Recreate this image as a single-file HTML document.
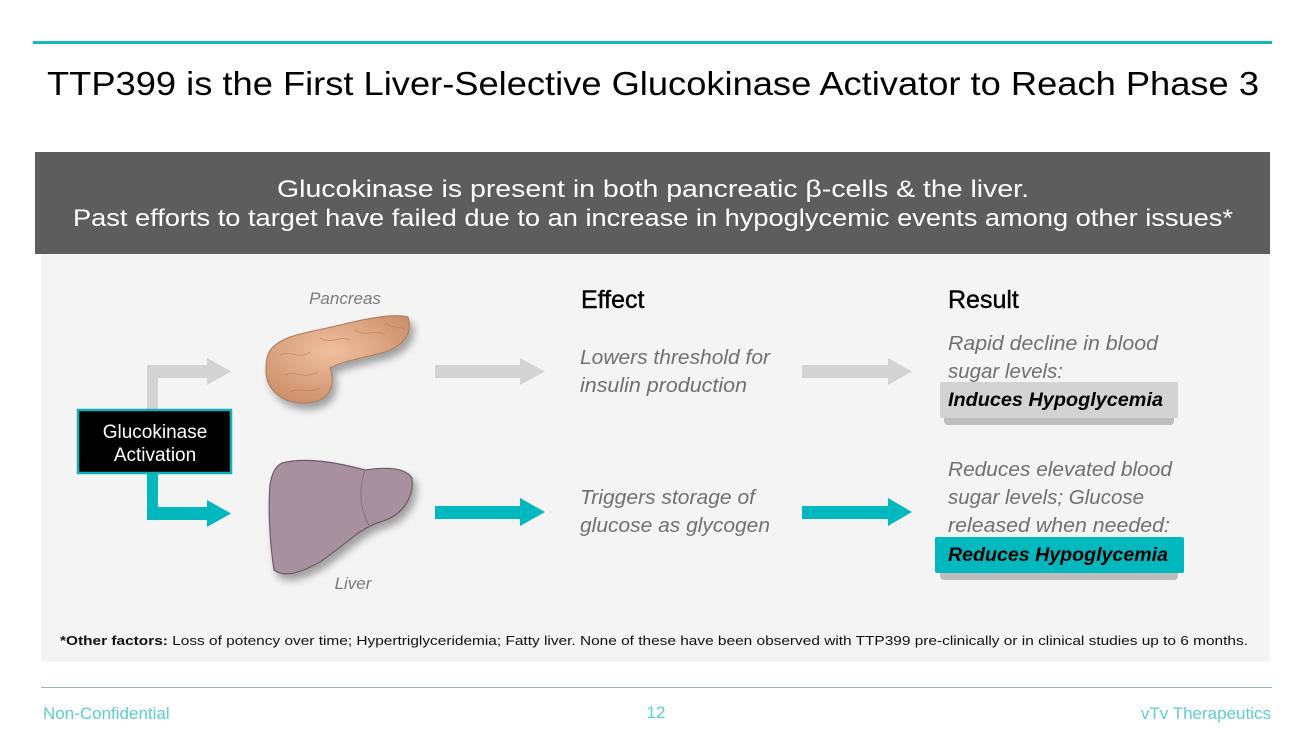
<!DOCTYPE html>
<html><head><meta charset="utf-8"><style>
html,body{margin:0;padding:0;background:#fff;}
svg{display:block;font-family:"Liberation Sans",sans-serif;}
</style></head><body>
<svg width="1311" height="733" viewBox="0 0 1311 733" xmlns="http://www.w3.org/2000/svg">
<defs>
<radialGradient id="pg" cx="0.45" cy="0.4" r="0.7"><stop offset="0" stop-color="#f0c0a0"/><stop offset="1" stop-color="#c88a66"/></radialGradient>
<filter id="sh" x="-20%" y="-20%" width="150%" height="150%"><feGaussianBlur in="SourceAlpha" stdDeviation="4"/><feOffset dx="4" dy="6"/><feComponentTransfer><feFuncA type="linear" slope="0.35"/></feComponentTransfer><feMerge><feMergeNode/><feMergeNode in="SourceGraphic"/></feMerge></filter>
</defs>
<rect x="33" y="41" width="1239" height="3" fill="#17b5bd"/>
<text x="653" y="95" font-size="33" text-anchor="middle" fill="#000" textLength="1212" lengthAdjust="spacingAndGlyphs">TTP399 is the First Liver-Selective Glucokinase Activator to Reach Phase 3</text>
<rect x="35" y="152" width="1235" height="102" fill="#5d5d5d"/>
<text x="653" y="197" font-size="24" text-anchor="middle" fill="#fff" textLength="752" lengthAdjust="spacingAndGlyphs">Glucokinase is present in both pancreatic β-cells &amp; the liver.</text>
<text x="653" y="226" font-size="24" text-anchor="middle" fill="#fff" textLength="1160" lengthAdjust="spacingAndGlyphs">Past efforts to target have failed due to an increase in hypoglycemic events among other issues*</text>
<rect x="41" y="254" width="1229" height="408" fill="#f4f4f4"/>
<path d="M147 410 V365 H207 V358 L231 371.5 L207 385 V378 H158 V410 Z" fill="#d3d3d3"/>
<path d="M147 473 V520 H207 V527 L231 513.5 L207 500 V507 H158 V473 Z" fill="#00b8be"/>
<rect x="78" y="410" width="153" height="63" fill="#000" stroke="#16aeb5" stroke-width="2.5"/>
<text x="155" y="438" font-size="19" fill="#fff" text-anchor="middle">Glucokinase</text>
<text x="155" y="461" font-size="19" fill="#fff" text-anchor="middle">Activation</text>
<text x="345" y="304" font-size="17" font-style="italic" fill="#7a7a7a" text-anchor="middle">Pancreas</text>
<path filter="url(#sh)" d="M272 348 C285 334 312 332 340 325 C368 318 395 313 408 317 C413 332 405 345 385 352 C365 358 345 360 330 368 C336 385 330 401 308 403 C284 405 265 390 266 370 C266 360 267 354 272 348 Z" fill="url(#pg)" stroke="#b07858" stroke-width="1"/>
<g fill="none" stroke="#b77a5a" stroke-width="0.8" opacity="0.7">
<path d="M280 355 C290 350 300 360 310 352 M285 375 C295 370 305 380 318 372 M290 392 C300 386 310 395 320 388 M320 338 C330 345 340 335 350 340 M355 330 C365 338 375 328 385 335 M385 322 C392 330 400 325 405 330"/>
</g>
<text x="353" y="589" font-size="17" font-style="italic" fill="#7a7a7a" text-anchor="middle">Liver</text>
<path filter="url(#sh)" d="M282 463 C305 457 335 462 365 470 C385 467 405 467 412 478 C414 495 405 515 380 522 C360 528 345 545 320 562 C300 573 285 578 274 570 C270 545 268 510 270 485 C272 472 276 466 282 463 Z" fill="#a8919f" stroke="#6e5a66" stroke-width="1.2"/>
<path d="M365 470 C358 490 360 510 370 527" fill="none" stroke="#8a7080" stroke-width="1"/>
<path d="M435 365 H520 V358 L545 371.5 L520 385 V378 H435 Z" fill="#d3d3d3"/>
<path d="M435 506 H520 V498 L545 512 L520 526 V519 H435 Z" fill="#00b8be"/>
<path d="M802 365 H888 V358 L912 371.5 L888 385 V378 H802 Z" fill="#d3d3d3"/>
<path d="M802 506 H888 V498 L912 512 L888 526 V519 H802 Z" fill="#00b8be"/>
<text x="581" y="308" font-size="25" fill="#000" stroke="#000" stroke-width="0.4">Effect</text>
<g font-size="20" font-style="italic" fill="#707070">
<text x="580" y="364" textLength="190" lengthAdjust="spacingAndGlyphs">Lowers threshold for</text>
<text x="580" y="392" textLength="167" lengthAdjust="spacingAndGlyphs">insulin production</text>
<text x="580" y="504" textLength="175" lengthAdjust="spacingAndGlyphs">Triggers storage of</text>
<text x="580" y="532" textLength="190" lengthAdjust="spacingAndGlyphs">glucose as glycogen</text>
</g>
<text x="948" y="308" font-size="25" fill="#000" stroke="#000" stroke-width="0.4">Result</text>
<g font-size="20" font-style="italic" fill="#707070">
<text x="948" y="350" textLength="210" lengthAdjust="spacingAndGlyphs">Rapid decline in blood</text>
<text x="948" y="378" textLength="115" lengthAdjust="spacingAndGlyphs">sugar levels:</text>
<text x="948" y="476" textLength="224" lengthAdjust="spacingAndGlyphs">Reduces elevated blood</text>
<text x="948" y="504" textLength="196" lengthAdjust="spacingAndGlyphs">sugar levels; Glucose</text>
<text x="948" y="532" textLength="222" lengthAdjust="spacingAndGlyphs">released when needed:</text>
</g>
<rect x="944" y="413" width="230" height="12" fill="#999" opacity="0.6" rx="4"/>
<rect x="940" y="382" width="238" height="36" fill="#d3d3d3" rx="2"/>
<text x="948" y="406" font-size="19" font-style="italic" font-weight="bold" fill="#000" textLength="215" lengthAdjust="spacingAndGlyphs">Induces Hypoglycemia</text>
<rect x="940" y="568" width="238" height="12" fill="#999" opacity="0.6" rx="4"/>
<rect x="935" y="537" width="249" height="36" fill="#00b8be" rx="2"/>
<text x="948" y="561" font-size="19" font-style="italic" font-weight="bold" fill="#000" textLength="220" lengthAdjust="spacingAndGlyphs">Reduces Hypoglycemia</text>
<text x="60" y="645" font-size="13" fill="#111" textLength="1188" lengthAdjust="spacingAndGlyphs"><tspan font-weight="bold">*Other factors:</tspan> Loss of potency over time; Hypertriglyceridemia; Fatty liver. None of these have been observed with TTP399 pre-clinically or in clinical studies up to 6 months.</text>
<rect x="41" y="687" width="1231" height="1" fill="#9fb8ba"/>
<g font-size="17" fill="#5ccdd2">
<text x="43" y="719">Non-Confidential</text>
<text x="656" y="718" text-anchor="middle">12</text>
<text x="1271" y="719" text-anchor="end">vTv Therapeutics</text>
</g>
</svg>
</body></html>
